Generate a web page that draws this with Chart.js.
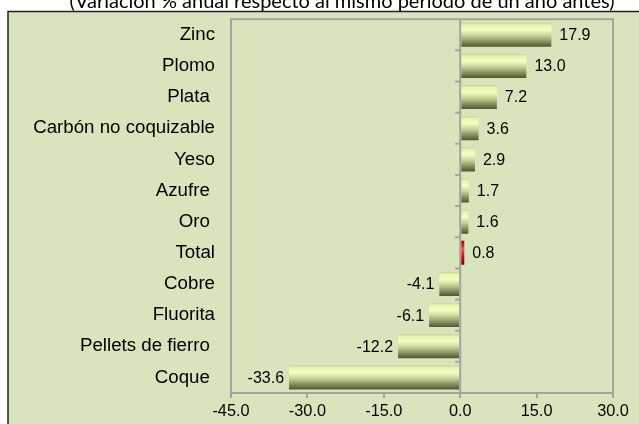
<!DOCTYPE html>
<html>
<head>
<meta charset="utf-8">
<script src="https://cdn.jsdelivr.net/npm/chart.js@4"></script>
<style>
  html, body { margin: 0; padding: 0; background: #fff; }
  #wrap { width: 639px; height: 424px; }
</style>
</head>
<body>
<div id="wrap"><canvas id="grafico"></canvas></div>
<script>
const categorias = ['Zinc', 'Plomo', 'Plata ', 'Carbón no coquizable', 'Yeso', 'Azufre ', 'Oro ', 'Total', 'Cobre', 'Fluorita', 'Pellets de fierro ', 'Coque '];
const variacion = [17.9, 13.0, 7.2, 3.6, 2.9, 1.7, 1.6, 0.8, -4.1, -6.1, -12.2, -33.6];
const ticksX = [-45, -30, -15, 0, 15, 30];
const titulo = '(Variación % anual respecto al mismo período de un año antes)';

const anchoBarra = 0.77;
const gris = '#a3a3a3';

// degradado vertical de cada barra, calculado con la escala de categorias
function relleno(c) {
  const chart = c.chart;
  const y = chart.scales.y;
  if (!y || c.dataIndex === undefined) return '#c9d79c';
  const yc = y.getPixelForValue(c.dataIndex);
  const paso = Math.abs(y.getPixelForValue(1) - y.getPixelForValue(0));
  const m = paso * anchoBarra / 2;
  if (!isFinite(yc) || !isFinite(m) || m <= 0) return '#c9d79c';
  const g = chart.ctx.createLinearGradient(0, yc - m, 0, yc + m);
  if (categorias[c.dataIndex] === 'Total') {
    g.addColorStop(0, '#8a0000');
    g.addColorStop(0.35, '#ff4a4a');
    g.addColorStop(0.6, '#d01818');
    g.addColorStop(1, '#700000');
  } else {
    g.addColorStop(0, '#c4d09c');
    g.addColorStop(0.08, '#e4f3ad');
    g.addColorStop(0.3, '#f3ffc2');
    g.addColorStop(0.55, '#c2d196');
    g.addColorStop(0.8, '#7f8c5a');
    g.addColorStop(1, '#4c5731');
  }
  return g;
}

const fondo = {
  id: 'fondo',
  beforeDraw(chart) {
    const ctx = chart.ctx;
    ctx.save();
    ctx.fillStyle = '#fff';
    ctx.fillRect(0, 0, chart.width, chart.height);
    ctx.fillStyle = '#d8e4bc';
    ctx.fillRect(8, 11, chart.width - 8, chart.height - 11);
    ctx.strokeStyle = '#222';
    ctx.lineWidth = 1.5;
    ctx.beginPath();
    ctx.moveTo(8, chart.height);
    ctx.lineTo(8, 11.5);
    ctx.lineTo(chart.width, 11.5);
    ctx.stroke();
    // titulo (cortado arriba como en el original)
    ctx.fillStyle = '#000';
    ctx.font = '20px Lato';
    ctx.textAlign = 'center';
    ctx.textBaseline = 'alphabetic';
    ctx.fillText(titulo, 342, 8);
    // borde del area de trazado
    const a = chart.chartArea;
    ctx.strokeStyle = gris;
    ctx.lineWidth = 2;
    ctx.strokeRect(a.left, a.top, a.right - a.left, a.bottom - a.top);
    ctx.restore();
  },
  afterDatasetsDraw(chart) {
    const ctx = chart.ctx;
    const x0 = chart.scales.x.getPixelForValue(0);
    const y = chart.scales.y;
    const a = chart.chartArea;
    ctx.save();
    ctx.strokeStyle = gris;
    ctx.lineWidth = 2;
    ctx.beginPath();
    ctx.moveTo(x0, a.top);
    ctx.lineTo(x0, a.bottom);
    for (let i = 0; i < categorias.length - 1; i++) {
      const py = y.getPixelForValue(i + 0.5);
      ctx.moveTo(x0 - 5, py);
      ctx.lineTo(x0, py);
    }
    ctx.stroke();
    // etiquetas de valor
    ctx.fillStyle = '#000';
    ctx.font = '16px "Liberation Sans"';
    ctx.textBaseline = 'middle';
    chart.getDatasetMeta(0).data.forEach((el, i) => {
      const v = variacion[i];
      if (v >= 0) {
        ctx.textAlign = 'left';
        ctx.fillText(v.toFixed(1), el.x + 8, el.y + 1);
      } else {
        ctx.textAlign = 'right';
        ctx.fillText(v.toFixed(1), el.x - 5, el.y + 1);
      }
    });
    ctx.restore();
  }
};

new Chart(document.getElementById('grafico'), {
  type: 'bar',
  data: {
    labels: categorias,
    datasets: [{
      data: variacion,
      backgroundColor: relleno,
      borderWidth: 0,
      categoryPercentage: 1,
      barPercentage: anchoBarra
    }]
  },
  options: {
    indexAxis: 'y',
    responsive: true,
    maintainAspectRatio: false,
    animation: false,
    layout: { padding: { top: 12, right: 26, bottom: 0, left: 0 } },
    plugins: {
      legend: { display: false },
      tooltip: { enabled: false }
    },
    scales: {
      x: {
        min: -45,
        max: 30,
        afterBuildTicks(scale) {
          scale.ticks = ticksX.map(v => ({ value: v }));
        },
        afterFit(scale) { scale.height = 31; },
        grid: { drawOnChartArea: false, drawTicks: true, tickLength: 5, color: gris, lineWidth: 2 },
        border: { display: true, color: gris, width: 2 },
        ticks: {
          padding: 4,
          maxRotation: 0,
          color: '#000',
          font: { family: 'Liberation Sans', size: 16.3 },
          callback: v => Number(v).toFixed(1)
        }
      },
      y: {
        afterFit(scale) { scale.width = 231; },
        grid: { display: false },
        border: { display: false },
        ticks: {
          padding: 8,
          color: '#000',
          font: { family: 'Liberation Sans', size: 18.7 }
        }
      }
    }
  },
  plugins: [fondo]
});
</script>
</body>
</html>
